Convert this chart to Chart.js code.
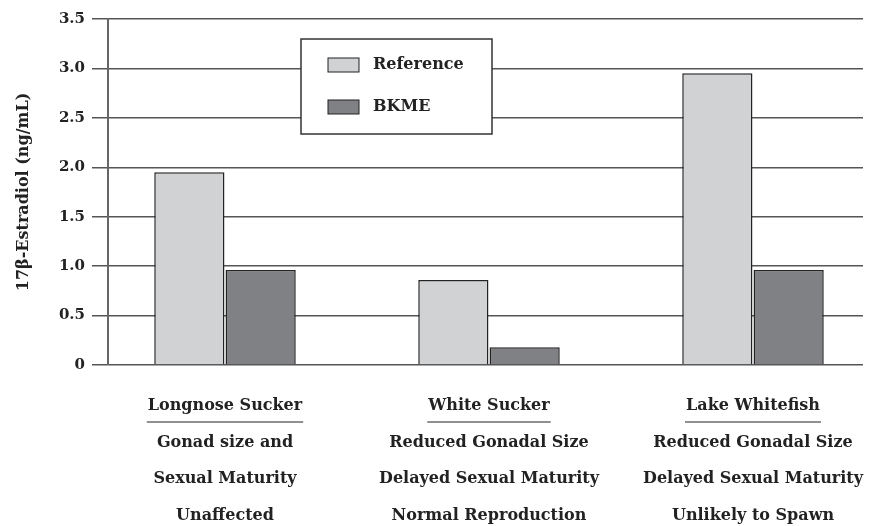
<!DOCTYPE html>
<html>
<head>
<meta charset="utf-8">
<script src="https://cdn.jsdelivr.net/npm/chart.js@4"></script>
<style>
  html, body { margin: 0; padding: 0; background: #fff; }
  #wrap { width: 872px; height: 526px; }
</style>
</head>
<body>
<div id="wrap"><canvas id="myChart" width="872" height="526"></canvas></div>
<script>
// fish species + effect notes shown under each group
var species = ['Longnose Sucker', 'White Sucker', 'Lake Whitefish'];
var effects = [
    ['Gonad size and', 'Sexual Maturity', 'Unaffected'],
    ['Reduced Gonadal Size', 'Delayed Sexual Maturity', 'Normal Reproduction'],
    ['Reduced Gonadal Size', 'Delayed Sexual Maturity', 'Unlikely to Spawn']
];
var referenceValues = [1.95, 0.86, 2.95];
var bkmeValues = [0.96, 0.18, 0.96];
var yTicks = [0, 0.5, 1.0, 1.5, 2.0, 2.5, 3.0, 3.5];

var serif = '"DejaVu Serif", "Liberation Serif", serif';

var labels = species.map(function(s, i) { return [s].concat(effects[i]); });

// the groups in the original sit a bit wider than the plot area,
// so stretch the x scale past the y axis a little
var widenX = {
    id: 'widenX',
    afterLayout: function(chart) {
        var xs = chart.scales.x;
        xs.left = 93;
        xs.right = 885;
        xs.width = xs.right - xs.left;
        xs.configure();
    }
};

// draws the boxed legend and underlines species names
var decorations = {
    id: 'decorations',
    afterDraw: function(chart) {
        var c = chart.ctx;
        c.save();
        // legend box
        c.fillStyle = '#fff';
        c.fillRect(301, 39, 191, 95);
        c.strokeStyle = '#333';
        c.lineWidth = 1.5;
        c.strokeRect(301, 39, 191, 95);
        c.font = 'bold 16px ' + serif;
        c.textBaseline = 'middle';
        chart.data.datasets.forEach(function(ds, i) {
            var y = 65 + i * 42;
            c.fillStyle = ds.backgroundColor;
            c.fillRect(328, y - 7, 31, 14);
            c.strokeStyle = '#222';
            c.lineWidth = 1;
            c.strokeRect(328, y - 7, 31, 14);
            c.fillStyle = '#222';
            c.fillText(ds.label, 373, y);
        });
        // underline the species name
        var xs = chart.scales.x;
        c.font = 'bold 16px ' + serif;
        c.strokeStyle = '#222';
        c.lineWidth = 1.2;
        species.forEach(function(s, i) {
            var cx = xs.getPixelForTick(i);
            var w = c.measureText(s).width;
            c.beginPath();
            c.moveTo(cx - w / 2 - 1, 422);
            c.lineTo(cx + w / 2 + 1, 422);
            c.stroke();
        });
        c.restore();
    }
};

var ctx = document.getElementById('myChart').getContext('2d');
var myChart = new Chart(ctx, {
    type: 'bar',
    data: {
        labels: labels,
        datasets: [{
            label: 'Reference',
            data: referenceValues,
            backgroundColor: '#d1d2d4',
            borderColor: '#222',
            borderWidth: 1.5,
            categoryPercentage: 0.54,
            barPercentage: 0.985
        }, {
            label: 'BKME',
            data: bkmeValues,
            backgroundColor: '#808184',
            borderColor: '#222',
            borderWidth: 1.5,
            categoryPercentage: 0.54,
            barPercentage: 0.985
        }]
    },
    options: {
        responsive: false,
        animation: false,
        layout: { padding: { top: 19, right: 9, left: 0, bottom: 0 } },
        plugins: {
            legend: { display: false },
            tooltip: { enabled: false }
        },
        scales: {
            x: {
                grid: { display: false },
                border: { display: false },
                ticks: {
                    color: '#222',
                    font: { family: serif, size: 16, weight: 'bold', lineHeight: 2.28 },
                    maxRotation: 0,
                    autoSkip: false,
                    padding: 15
                },
                afterFit: function(scale) { scale.height = 161; }
            },
            y: {
                min: 0,
                max: 3.5,
                afterBuildTicks: function(scale) {
                    scale.ticks = yTicks.map(function(v) { return { value: v }; });
                },
                grid: {
                    color: '#555',
                    lineWidth: 1.5,
                    tickLength: 16,
                    drawTicks: true
                },
                border: { display: true, color: '#666', width: 2 },
                ticks: {
                    color: '#222',
                    padding: 7,
                    font: { family: serif, size: 15, weight: 'bold' },
                    callback: function(v) { return v === 0 ? '0' : v.toFixed(1); }
                },
                title: {
                    display: true,
                    text: '17\u03b2-Estradiol (ng/mL)',
                    color: '#222',
                    font: { family: serif, size: 16, weight: 'bold' },
                    padding: { top: 14, bottom: 0 }
                },
                afterFit: function(scale) { scale.width = 108; }
            }
        }
    },
    plugins: [widenX, decorations]
});
</script>
</body>
</html>
